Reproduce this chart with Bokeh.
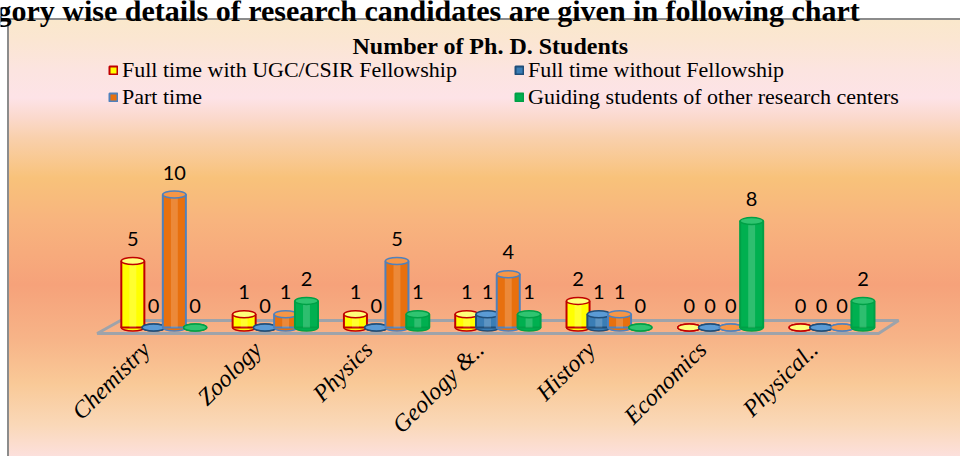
import math
from bokeh.plotting import figure
from bokeh.models import ColumnDataSource, Label, Legend, LegendItem, FixedTicker, Range1d
from bokeh.embed import file_html
from bokeh.resources import INLINE
from bokeh.core.properties import value

# ---------------- data ----------------
categories = ["Chemistry", "Zoology", "Physics", "Geology &..", "History", "Economics", "Physical.."]
series_names = ["Full time with UGC/CSIR Fellowship", "Full time without Fellowship",
                "Part time", "Guiding students of other research centers"]
full_time_ugc = [5, 1, 1, 1, 2, 0, 0]
full_time_without = [0, 0, 0, 1, 1, 0, 0]
part_time = [10, 1, 5, 4, 1, 0, 0]
guiding_other = [0, 2, 1, 1, 0, 8, 2]
chart_title = "Number of Ph. D. Students"
header_text = "gory wise details of research candidates are given in following chart"

series_values = [full_time_ugc, full_time_without, part_time, guiding_other]

# ---------------- styles ----------------
side_colors = ["#FFFF00", "#3A7DB5", "#E8700E", "#00B050"]
cap_colors = ["#FFFF7A", "#5B9BD5", "#F79646", "#2FC470"]
edge_colors = ["#C00000", "#1F4E79", "#4F81BD", "#00A046"]
offsets = [-0.28, -0.093, 0.093, 0.28]
bar_w = 0.207

W, H = 960, 456
B_BOTTOM = 118
FH = H - B_BOTTOM     # frame height (frame spans canvas y 0..FH)
PX_X = 111.3          # pixels per category
X0 = 163.5            # canvas x of first category
PX_Y = 13.3           # pixels per student
Y0 = 327.0            # canvas y of baseline

xs = -X0 / PX_X
xe = xs + W / PX_X
ys = -(FH - Y0) / PX_Y
ye = Y0 / PX_Y


def cx(px):
    return xs + px / PX_X


def cy(py):
    return ye - py / PX_Y


BT = 18   # top border of chart box (canvas px)
BL = 7    # left border of chart box
stops = [(0, "#ffffff"), (BT, "#ffffff"), (BT, "#8c8c8c"), (BT + 2, "#8c8c8c"), (BT + 2, "#FAE8CC"),
         (40, "#FBE6D2"), (70, "#FCE4E0"), (98, "#FDE3E7"), (118, "#FBD9CC"), (138, "#F9D0AC"),
         (178, "#F8C27A"), (220, "#F8B47E"), (285, "#F6A27A"), (340, "#F7B488"),
         (383, "#F9C997"), (425, "#FAD8B8"), (456, "#FCE0DC")]
grad = ", ".join(f"{c} {y}px" for y, c in stops)
bg = (f"linear-gradient(#ffffff, #ffffff) 0px 0px / {BL}px 100% no-repeat, "
      f"linear-gradient(#8c8c8c, #8c8c8c) {BL}px {BT}px / 2px 100% no-repeat, "
      f"linear-gradient(to bottom, {grad})")

p = figure(width=W, height=H, output_backend="svg", toolbar_location=None,
           x_range=Range1d(xs, xe), y_range=Range1d(ys, ye),
           min_border_left=0, min_border_right=0, min_border_top=0, min_border_bottom=B_BOTTOM,
           y_axis_location=None, title=None,
           background_fill_color=None, border_fill_color=None, outline_line_color=None,
           styles={"background": bg})
p.xgrid.visible = False
p.ygrid.visible = False

n = len(categories)
idx = list(range(n))

# floor of the 3-D plot
p.patch(x=[-0.6, n - 1 + 0.42, n - 1 + 0.6, -0.39], y=[-0.45, -0.45, 0.53, 0.53],
        fill_alpha=0, line_color="#9EA3AA", line_width=3)

bodies = []
sources = []
for s in range(4):
    src = ColumnDataSource(dict(x=[i + offsets[s] for i in idx],
                                top=series_values[s],
                                label=[str(v) for v in series_values[s]]))
    sources.append(src)
    p.ellipse(x="x", y=0, width=bar_w, height=7, height_units="screen",
              fill_color=side_colors[s], line_color=edge_colors[s], line_width=1.5, source=src)
    body = p.vbar(x="x", top="top", bottom=0, width=bar_w, fill_color=side_colors[s],
                  line_color=edge_colors[s], line_width=2, source=src)
    bodies.append(body)
    # soft highlight for a cylindrical look
    p.vbar(x="x", top="top", bottom=0, width=bar_w * 0.3, fill_color="white", fill_alpha=0.18,
           line_color=None, source=src)
    p.ellipse(x="x", y="top", width=bar_w, height=7, height_units="screen",
              fill_color=cap_colors[s], line_color=edge_colors[s], line_width=1.5, source=src)

for s in range(4):
    p.text(x="x", y="top", text="label", source=sources[s], text_font=value("Lato"),
           text_font_size="20px", text_align="center", text_baseline="middle",
           y_offset=-22, text_color="#000000")

# axis (labels end a little left of each group's centre, as in the original)
tick_shift = -0.162
ticks = [i + tick_shift for i in idx]
p.xaxis.ticker = FixedTicker(ticks=ticks)
p.xaxis.major_label_overrides = {t: c for t, c in zip(ticks, categories)}
p.xaxis.major_label_orientation = math.pi / 4
p.xaxis.major_label_text_font = "Liberation Serif"
p.xaxis.major_label_text_font_style = "italic"
p.xaxis.major_label_text_font_size = "24px"
p.xaxis.major_label_text_color = "#000000"
p.xaxis.major_label_standoff = 7
p.xaxis.major_tick_out = 0
p.xaxis.major_tick_in = 0
p.xaxis.axis_line_color = None
p.xaxis.major_tick_line_color = None
p.xaxis.minor_tick_line_color = None

# legends (two columns of two entries)
for (a, b), lx in [((0, 2), 108), ((1, 3), 514)]:
    lg = Legend(items=[LegendItem(label=series_names[a], renderers=[bodies[a]]),
                       LegendItem(label=series_names[b], renderers=[bodies[b]])],
                location=(lx, FH - 110), glyph_width=10, glyph_height=10, label_standoff=4,
                label_text_font="Liberation Serif", label_text_font_size="22px",
                label_text_color="#000000", label_height=22, spacing=1,
                padding=0, margin=0, border_line_color=None, background_fill_alpha=0)
    p.add_layout(lg)

# title and header
p.add_layout(Label(x=cx(490), y=cy(45), text=chart_title, text_font="Liberation Serif",
                   text_font_style="bold", text_font_size="24px", text_align="center",
                   text_baseline="middle", text_color="#000000"))
p.add_layout(Label(x=cx(-4), y=cy(10), text=header_text, text_font="Liberation Serif",
                   text_font_style="bold", text_font_size="30px", text_align="left",
                   text_baseline="alphabetic", text_color="#000000"))

open("out.html", "w").write(file_html(p, INLINE))
